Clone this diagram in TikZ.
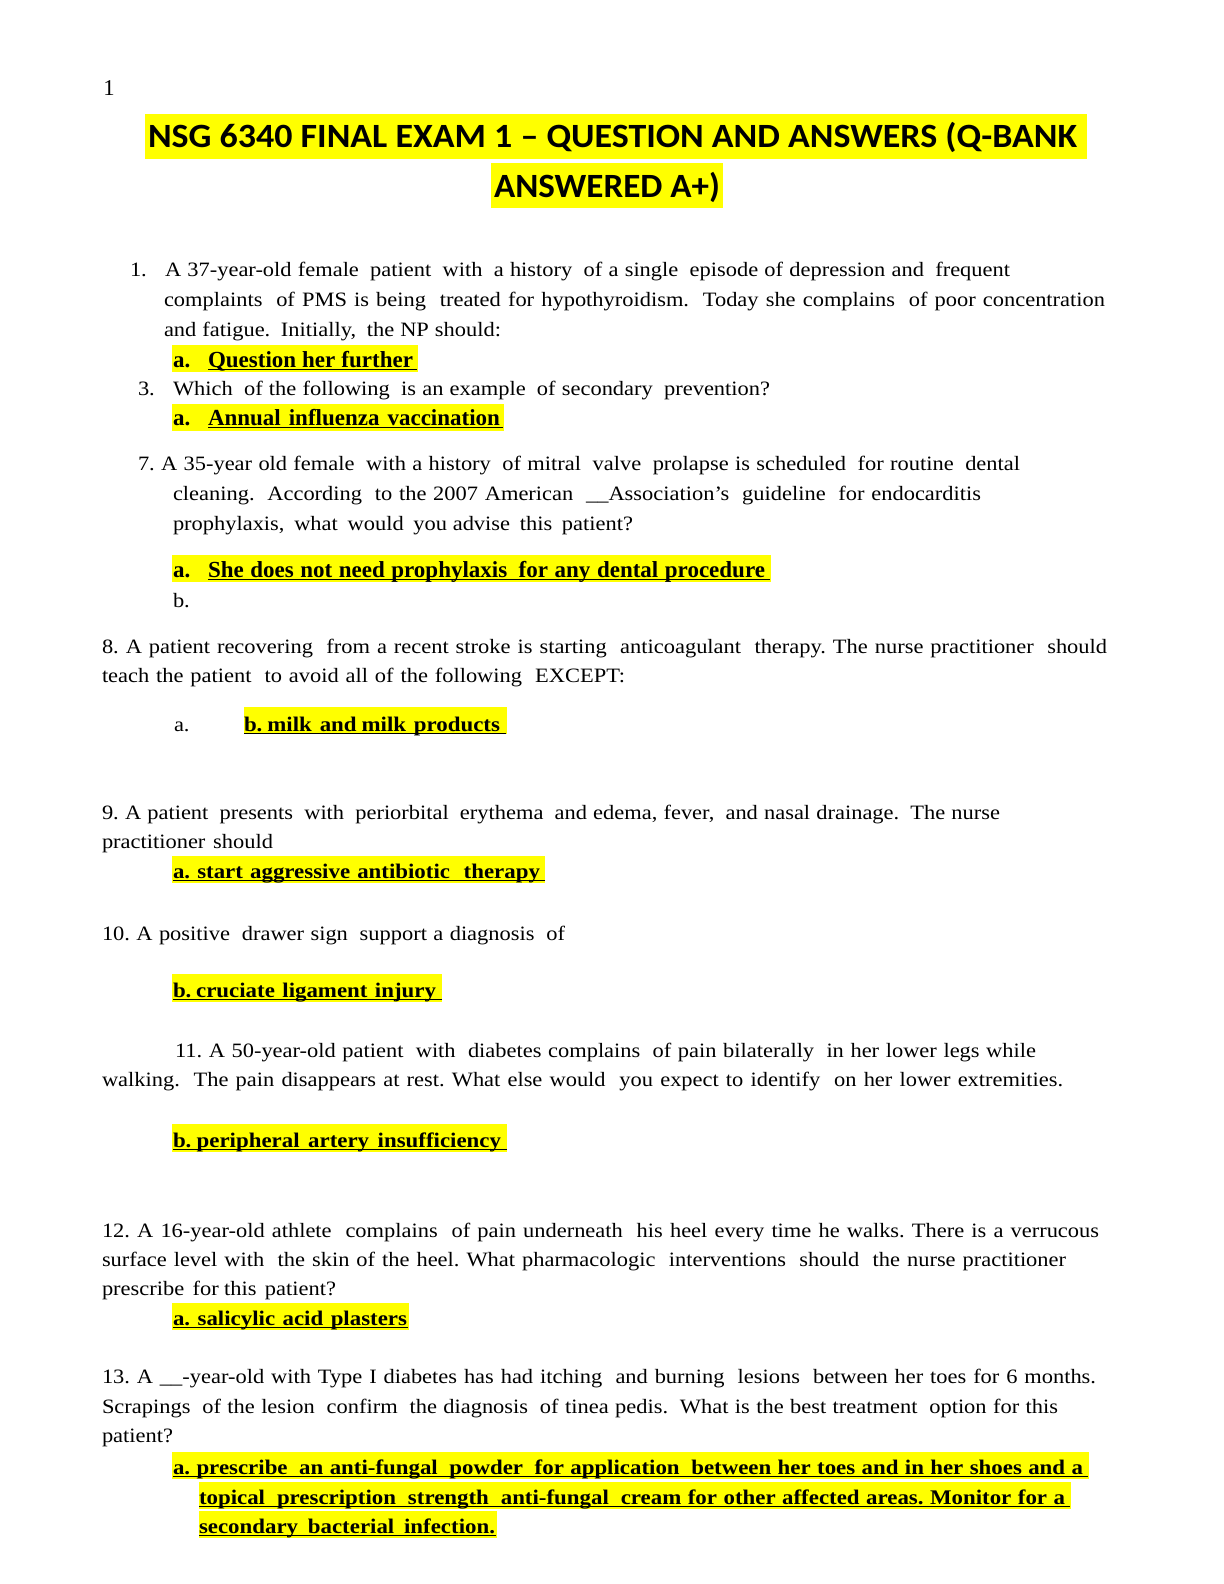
\documentclass[tikz,border=0pt]{standalone}
\usepackage{fontspec}
\setmainfont{Liberation Serif}[FakeStretch=1.1]
\newfontfamily\ansfont{Liberation Serif}
\newfontfamily\titlefont{Carlito}
\usepackage{graphicx}
\definecolor{hly}{HTML}{FFFF00}
\newcommand\myspc{\spaceskip=0.25em plus 0.18em minus 0.05em\relax}
\newcommand\W{\hspace{0.4em plus 0.5em minus 0.1em}}
\tikzset{
  txt/.style={anchor=base west, inner sep=0pt, outer sep=0pt, font=\fontsize{10.2}{12}\selectfont\myspc},
  anstxt/.style={anchor=base west, inner sep=0pt, outer sep=0pt, font=\ansfont\fontsize{11.5}{13}\selectfont\bfseries\myspc},
  anstxtb/.style={anchor=base west, inner sep=0pt, outer sep=0pt, font=\fontsize{10.4}{12}\selectfont\bfseries\myspc},
  ttl/.style={anchor=base west, inner sep=0pt, outer sep=0pt, font=\titlefont\bfseries\fontsize{17}{20}\selectfont},
  hlc/.style={fill=hly},
  ul/.style={draw=black, line width=0.9pt},
}
% #1 name, #2 x start, #3 baseline, #4 x end, #5 text
\newcommand\tl[5]{\node[txt] (#1) at (#2,#3) {\makebox[\dimexpr 1pt*(#4-#2)/2\relax][s]{#5}};}
\newcommand\al[5]{\node[anstxt] (#1) at (#2,#3) {\makebox[\dimexpr 1pt*(#4-#2)/2\relax][s]{#5}};}
\newcommand\bl[5]{\node[anstxtb] (#1) at (#2,#3) {\makebox[\dimexpr 1pt*(#4-#2)/2\relax][s]{#5}};}
\newcommand\hlbox[4]{\fill[hlc] (#1,#2) rectangle (#3,#4);}
\newcommand\uline[3]{\draw[ul] (#1,#3+2.5) -- (#2,#3+2.5);}
\frenchspacing
\begin{document}
\begin{tikzpicture}[x=0.5pt,y=-0.5pt]
\useasboundingbox (0,0) rectangle (1224,1584);
\fill[white] (0,0) rectangle (1224,1584);

% page number
\node[anchor=base west, inner sep=0pt, font=\ansfont\fontsize{11.3}{13}\selectfont] (pnum) at (103,96) {1};

% title
\hlbox{145}{114}{1087}{159}
\hlbox{491}{163}{723}{208}
\node[ttl] (t1) at (148,147.5) {\resizebox{\dimexpr 1pt*(1077-148)/2\relax}{\height}{NSG 6340 FINAL EXAM 1 – QUESTION AND ANSWERS (Q-BANK}};
\node[ttl] (t2) at (494,197) {\resizebox{\dimexpr 1pt*(720-494)/2\relax}{\height}{ANSWERED A+)}};

% Q1
\node[txt] (n1) at (130,276) {1.};
\tl{q1a}{165}{276}{1010}{A 37-year-old female\W patient\W with\W a history\W of a single\W episode of depression and\W frequent}
\tl{q1b}{164}{306}{1105}{complaints\W of PMS is being\W treated for hypothyroidism.\W Today she complains\W of poor concentration}
\tl{q1c}{164}{336}{501}{and fatigue.\W Initially,\W the NP should:}
\hlbox{172}{345}{418}{372}
\node[anstxt] (a1l) at (173,367) {a.};
\al{a1}{208}{367}{413}{Question her further}
\uline{208}{417}{367}

% Q3
\node[txt] (n3) at (138,395) {3.};
\tl{q3a}{173}{395}{770}{Which\W of the following\W is an example\W of secondary\W prevention?}
\hlbox{172}{404}{504}{431}
\node[anstxt] (a3l) at (173,425) {a.};
\al{a3}{208}{425}{500}{Annual\W influenza\W vaccination}
\uline{208}{503}{425}

% Q7
\tl{q7a}{138}{470}{1020}{7. A 35-year old female\W with a history\W of mitral\W valve\W prolapse is scheduled\W for routine\W dental}
\tl{q7b}{173}{500}{981}{cleaning.\W According\W to the 2007 American\W \_\_Association’s\W guideline\W for endocarditis}
\tl{q7c}{173}{530}{633}{prophylaxis,\W what\W would\W you advise\W this\W patient?}
\hlbox{172}{555}{771}{582}
\node[anstxt] (a7l) at (173,577) {a.};
\al{a7}{208}{577}{765}{She does not need prophylaxis\W for any dental procedure}
\uline{208}{770}{577}
\node[txt] (b7) at (173,607) {b.};

% Q8
\tl{q8a}{102}{653}{1107}{8. A patient recovering\W from a recent stroke is starting\W anticoagulant\W therapy. The nurse practitioner\W should}
\tl{q8b}{102}{682}{625}{teach the patient\W to avoid all of the following\W EXCEPT:}
\node[txt] (a8l) at (174,731) {a.};
\hlbox{244}{707}{507}{734}
\bl{a8}{244}{731}{500}{b. milk\W and milk\W products}
\uline{244}{506}{731}

% Q9
\tl{q9a}{102}{819}{1000}{9. A patient\W presents\W with\W periorbital\W erythema\W and edema, fever,\W and nasal drainage.\W The nurse}
\tl{q9b}{102}{848}{273}{practitioner\W should}
\hlbox{172}{856}{545}{883}
\bl{a9}{173}{878}{540}{a. start aggressive antibiotic\W therapy}
\uline{173}{545}{878}

% Q10
\tl{q10a}{102}{940}{565}{10. A positive\W drawer sign\W support a diagnosis\W of}
\hlbox{172}{974}{442}{1002}
\bl{a10}{173}{997}{436}{b. cruciate\W ligament\W injury}
\uline{173}{442}{997}

% Q11
\tl{q11a}{175}{1057}{1036}{11. A 50-year-old patient\W with\W diabetes complains\W of pain bilaterally\W in her lower legs while}
\tl{q11b}{102}{1086}{1063}{walking.\W The pain disappears at rest. What else would\W you expect to identify\W on her lower extremities.}
\hlbox{172}{1124}{507}{1152}
\bl{a11}{173}{1147}{501}{b. peripheral\W artery\W insufficiency}
\uline{173}{507}{1147}

% Q12
\tl{q12a}{102}{1237}{1099}{12. A 16-year-old athlete\W complains\W of pain underneath\W his heel every time he walks. There is a verrucous}
\tl{q12b}{102}{1266}{1066}{surface level with\W the skin of the heel. What pharmacologic\W interventions\W should\W the nurse practitioner}
\tl{q12c}{102}{1295}{336}{prescribe\W for this\W patient?}
\hlbox{172}{1303}{409}{1330}
\bl{a12}{173}{1325}{407}{a. salicylic acid plasters}
\uline{173}{408}{1325}

% Q13
\tl{q13a}{102}{1383}{1096}{13. A \_\_-year-old with Type I diabetes has had itching\W and burning\W lesions\W between her toes for 6 months.}
\tl{q13b}{102}{1413}{1058}{Scrapings\W of the lesion\W confirm\W the diagnosis\W of tinea pedis.\W What is the best treatment\W option for this}
\node[txt] (q13c) at (102,1442) {patient?};
\hlbox{172}{1452}{1089}{1479}
\bl{a13a}{173}{1474}{1083}{a. prescribe\W an anti-fungal\W powder\W for application\W between her toes and in her shoes and a}
\uline{173}{1088}{1474}
\hlbox{199}{1482}{1071}{1509}
\bl{a13b}{199}{1504}{1065}{topical\W prescription\W strength\W anti-fungal\W cream for other affected areas. Monitor for a}
\uline{199}{1070}{1504}
\hlbox{199}{1511}{497}{1538}
\bl{a13c}{199}{1533}{495}{secondary\W bacterial\W infection.}
\uline{199}{496}{1533}
\end{tikzpicture}
\end{document}
